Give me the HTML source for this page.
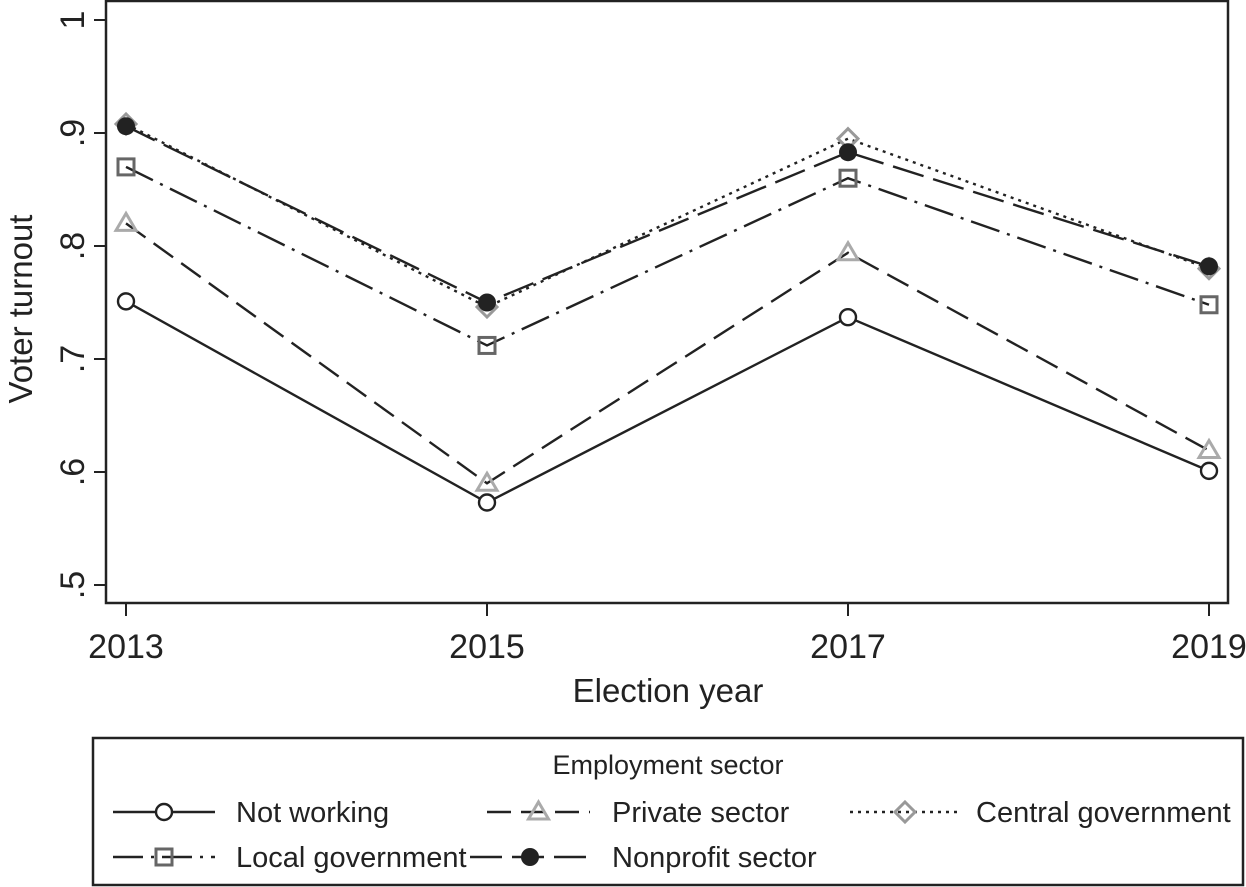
<!DOCTYPE html>
<html><head><meta charset="utf-8"><style>
body{margin:0;background:#fff}
svg{display:block;font-family:"Liberation Sans",Arial,sans-serif}
</style></head><body>
<svg id="chart" width="1246" height="887" viewBox="0 0 1246 887">
<rect x="106" y="1" width="1122" height="602" fill="#fff" stroke="#222" stroke-width="2.5"/>
<g id="axes"></g>
<g id="series"></g>
<text x="668" y="702" font-size="33" text-anchor="middle" fill="#222">Election year</text>
<text transform="translate(32,309) rotate(-90)" font-size="33" text-anchor="middle" fill="#222">Voter turnout</text>
<rect x="93" y="738" width="1150" height="147" fill="#fff" stroke="#222" stroke-width="2.5"/>
<text x="668" y="774" font-size="27" text-anchor="middle" fill="#222">Employment sector</text>
<g id="legend"></g>
</svg>
<script>
const years=[2013,2015,2017,2019];
const yTicks=[0.5,0.6,0.7,0.8,0.9,1];
const yTickLabels=[".5",".6",".7",".8",".9","1"];
const seriesNames=["Not working","Private sector","Central government","Local government","Nonprofit sector"];
const notWorking=[0.751,0.573,0.737,0.601];
const privateSector=[0.820,0.590,0.794,0.619];
const centralGov=[0.908,0.746,0.895,0.780];
const localGov=[0.870,0.712,0.860,0.748];
const nonprofit=[0.906,0.750,0.883,0.782];
const NS="http://www.w3.org/2000/svg";
const X=y=>126+(y-2013)*(1209-126)/6;
const Y=v=>20+(1-v)*1130;
function mk(t,a,p){const e=document.createElementNS(NS,t);for(const k in a)e.setAttribute(k,a[k]);p.appendChild(e);return e;}
const ax=document.getElementById('axes');
yTicks.forEach((v,i)=>{
 const l=mk('line',{x1:94,x2:106,y1:Y(v),y2:Y(v),stroke:'#222','stroke-width':2},ax);
 
 
 const t=mk('text',{transform:`translate(84,${Y(v)}) rotate(-90)`,'font-size':34,'text-anchor':'middle',fill:'#222'},ax);
 t.textContent=yTickLabels[i];
 
 
});
years.forEach(y=>{
 const l=mk('line',{x1:X(y),x2:X(y),y1:603,y2:616,stroke:'#222','stroke-width':2},ax);
 
 
 const t=mk('text',{x:X(y),y:658,'font-size':34,'text-anchor':'middle',fill:'#222'},ax);
 t.textContent=y;
 
 
});
const styles=[
 {d:notWorking,dash:'',m:'circle'},
 {d:privateSector,dash:'24 10',m:'tri'},
 {d:centralGov,dash:'3 5',m:'diamond'},
 {d:localGov,dash:'30 8 3 8',m:'square'},
 {d:nonprofit,dash:'32 10',m:'dot'}
];
function marker(m,x,y,p){
 let e;
 if(m=='circle')e=mk('circle',{cx:x,cy:y,r:8,fill:'#fff',stroke:'#222','stroke-width':2.4},p);
 if(m=='dot')e=mk('circle',{cx:x,cy:y,r:9,fill:'#222'},p);
 if(m=='tri')e=mk('polygon',{points:`${x},${y-10} ${x+10},${y+7} ${x-10},${y+7}`,fill:'none',stroke:'#aaa','stroke-width':3},p);
 if(m=='diamond')e=mk('polygon',{points:`${x},${y-10} ${x+10},${y} ${x},${y+10} ${x-10},${y}`,fill:'none',stroke:'#999','stroke-width':3},p);
 if(m=='square')e=mk('rect',{x:x-8,y:y-8,width:16,height:16,fill:'none',stroke:'#666','stroke-width':3},p);
 return e;
}
const sg=document.getElementById('series');
styles.forEach((s,i)=>{
 const g=mk('g',{},sg);
 
 
 const pl=mk('polyline',{points:years.map((y,j)=>X(y)+','+Y(s.d[j])).join(' '),fill:'none',stroke:'#222','stroke-width':2.4,'stroke-dasharray':s.dash},g);
 
 
 years.forEach((y,j)=>{const e=marker(s.m,X(y),Y(s.d[j]),g);
  
  });
});
const lg=document.getElementById('legend');
const pos=[[113,215,236,812],[487,590,612,812],[850,960,976,812],[113,215,236,857],[470,590,612,857]];
styles.forEach((s,i)=>{
 const [x1,x2,tx,y]=pos[i];
 const g=mk('g',{},lg);
 
 
 mk('line',{x1:x1,x2:x2,y1:y,y2:y,stroke:'#222','stroke-width':2.4,'stroke-dasharray':s.dash},g);
 marker(s.m,(x1+x2)/2,y,g);
 const t=mk('text',{x:tx,y:y+10,'font-size':29,fill:'#222'},g);
 t.textContent=seriesNames[i];
});
</script>
</body></html>
